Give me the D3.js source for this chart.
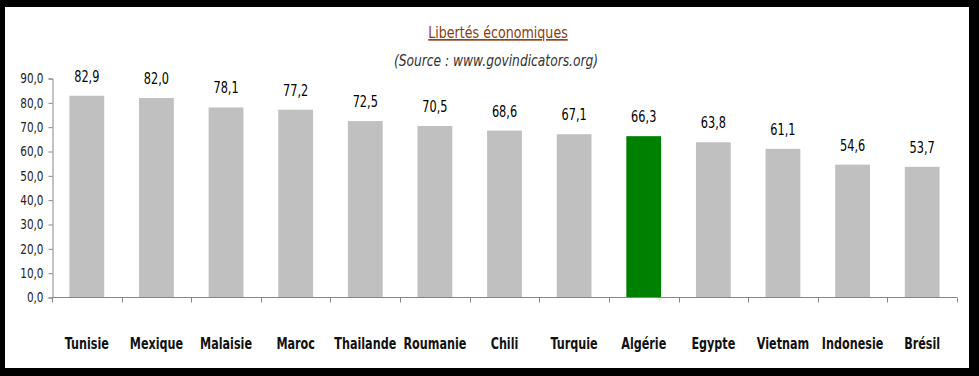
<!DOCTYPE html>
<html><head><meta charset="utf-8">
<script src="https://cdn.jsdelivr.net/npm/d3@7"></script>
<style>
html,body{margin:0;padding:0;background:#000;}
svg{display:block;}
</style></head>
<body>
<script>
const categories = ["Tunisie","Mexique","Malaisie","Maroc","Thailande","Roumanie","Chili","Turquie","Algérie","Egypte","Vietnam","Indonesie","Brésil"];
const values = [82.9,82.0,78.1,77.2,72.5,70.5,68.6,67.1,66.3,63.8,61.1,54.6,53.7];
const highlight = ["Algérie"];
const yTicks = [0,10,20,30,40,50,60,70,80,90];
const title = "Libertés économiques";
const subtitle = "(Source : www.govindicators.org)";

const W = 979, H = 376;
const FONT = "'Liberation Sans Narrow','DejaVu Sans Condensed',sans-serif";
const fmt = v => d3.format(".1f")(v).replace(".", ",");
const svg = d3.select("body").append("svg").attr("width", W).attr("height", H);
svg.append("rect").attr("width", W).attr("height", H).attr("fill", "#000");
svg.append("rect").attr("x", 5).attr("y", 7).attr("width", 964).attr("height", 361).attr("fill", "#fff");

const x = d3.scaleBand().domain(categories).range([52, 957]).paddingInner(0.5).paddingOuter(0.25);
const y = d3.scaleLinear().domain([0, 90]).range([297.5, 78.5]);

// bars
svg.append("g").selectAll("rect").data(categories).join("rect")
  .attr("x", d => x(d))
  .attr("width", x.bandwidth())
  .attr("y", (d,i) => y(values[i]))
  .attr("height", (d,i) => y(0) - y(values[i]))
  .attr("fill", d => highlight.includes(d) ? "#008000" : "#C0C0C0");

// y axis
const ys = 0.86;
const yAxis = d3.axisLeft(y).tickValues(yTicks).tickSize(4).tickPadding(4).tickFormat(fmt);
const gy = svg.append("g").attr("transform", "translate(52.5,0)").call(yAxis);
gy.selectAll("path,line").attr("stroke", "#868686");
gy.selectAll("text").attr("font-family", FONT).attr("font-size", 13.5).attr("fill", "#222")
  .attr("x", -9 / ys).attr("transform", `scale(${ys},1)`);

// x axis
const xb = d3.scaleBand().domain(categories).range([52, 957]);
const xAxis = d3.axisBottom(xb).tickSize(0).tickPadding(0).tickFormat("");
const gx = svg.append("g").attr("transform", `translate(0,${y(0)})`).call(xAxis);
gx.select("path").attr("stroke", "#868686").attr("d", "M52,0H957");
const bounds = categories.map(c => xb(c)).concat([957]);
gx.selectAll("line.b").data(bounds).join("line").attr("class","b")
  .attr("x1", d => Math.round(d)+0.5).attr("x2", d => Math.round(d)+0.5)
  .attr("y1", 0).attr("y2", 5).attr("stroke", "#868686");

// category labels
svg.append("g").selectAll("text").data(categories).join("text")
  .attr("transform", d => `translate(${x(d) + x.bandwidth()/2},349) scale(0.83,1)`)
  .attr("text-anchor", "middle")
  .attr("font-family", FONT).attr("font-weight", "bold").attr("font-size", 15)
  .attr("fill", "#111")
  .text(d => d);

// value labels
svg.append("g").selectAll("text").data(categories).join("text")
  .attr("transform", (d,i) => `translate(${x(d) + x.bandwidth()/2},${y(values[i]) - 14}) scale(0.84,1)`)
  .attr("text-anchor", "middle")
  .attr("font-family", FONT).attr("font-size", 15)
  .attr("fill", "#000")
  .text((d,i) => fmt(values[i]));

// title
svg.append("text").attr("transform", "translate(498,38) scale(0.88,1)").attr("text-anchor", "middle")
  .attr("font-family", FONT).attr("font-size", 16).attr("fill", "#8B3A0E")
  .attr("text-decoration", "underline")
  .text(title);
svg.append("text").attr("transform", "translate(496,66) scale(0.91,1)").attr("text-anchor", "middle")
  .attr("font-family", FONT).attr("font-size", 15).attr("font-style", "italic").attr("fill", "#333")
  .text(subtitle);
</script>
</body></html>
